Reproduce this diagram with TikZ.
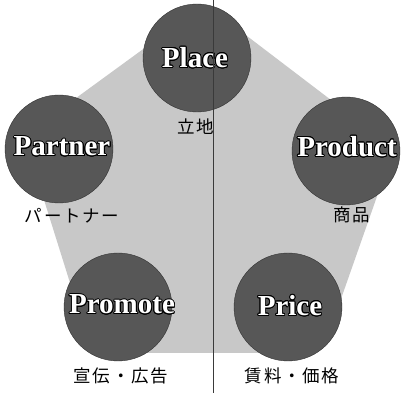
\documentclass[tikz,border=0pt]{standalone}
\usepackage{fontspec}
\setmainfont{Liberation Serif}
\newfontfamily\jpfont[LetterSpace=10]{Noto Sans CJK JP}
\usepackage[copies]{contour}
\contourlength{0.9pt}
\contournumber{16}
\definecolor{ballgray}{HTML}{575757}
\definecolor{pentagray}{HTML}{C8C8C8}
\definecolor{linegray}{HTML}{3A3A3A}
\tikzset{
  ball/.style={circle, fill=ballgray, draw=black!80, line width=0.4pt, minimum size=108pt, inner sep=0pt},
  balltext/.style={font=\fontsize{29}{29}\selectfont\bfseries, text=white, inner sep=0pt},
  jplabel/.style={font=\fontsize{17.5}{18}\selectfont\jpfont, text=black, inner sep=0pt},
}
\newcommand{\balllabel}[1]{\contour{black}{#1}}
\begin{document}
\begin{tikzpicture}[x=1pt, y=-1pt]
\useasboundingbox (0,0) rectangle (405,395);
% background pentagon
\fill[pentagray, rounded corners=48pt]
  (205,4) -- (394,148) -- (322,353) -- (92,353) -- (24,136) -- cycle;
% circles
\node[ball] (place)   at (197,58)  {};
\node[ball] (partner) at (59,149)  {};
\node[ball] (product) at (346,151) {};
\node[ball] (promote) at (118,307) {};
\node[ball] (price)   at (288,307) {};
% circle texts
\node[balltext] (tplace)   at (195,58)  {\balllabel{Place}};
\node[balltext] (tpartner) at (62,147)  {\balllabel{Partner}};
\node[balltext] (tproduct) at (347,147) {\balllabel{Product}};
\node[balltext] (tpromote) at (122,305) {\balllabel{Promote}};
\node[balltext] (tprice)   at (290,306) {\balllabel{Price}};
% japanese labels
\node[jplabel] (jplace)   at (196,127) {立地};
\node[jplabel] (jpartner) at (72,216)  {パートナー};
\node[jplabel] (jproduct) at (352,215) {商品};
\node[jplabel] (jpromote) at (121,376) {宣伝・広告};
\node[jplabel] (jprice)   at (292,376) {賃料・価格};
% vertical line
\coordinate (ltop) at (213,0);
\coordinate (lbot) at (213,393);
\draw[linegray, line width=0.8pt] (ltop) -- (lbot);
\end{tikzpicture}
\end{document}
